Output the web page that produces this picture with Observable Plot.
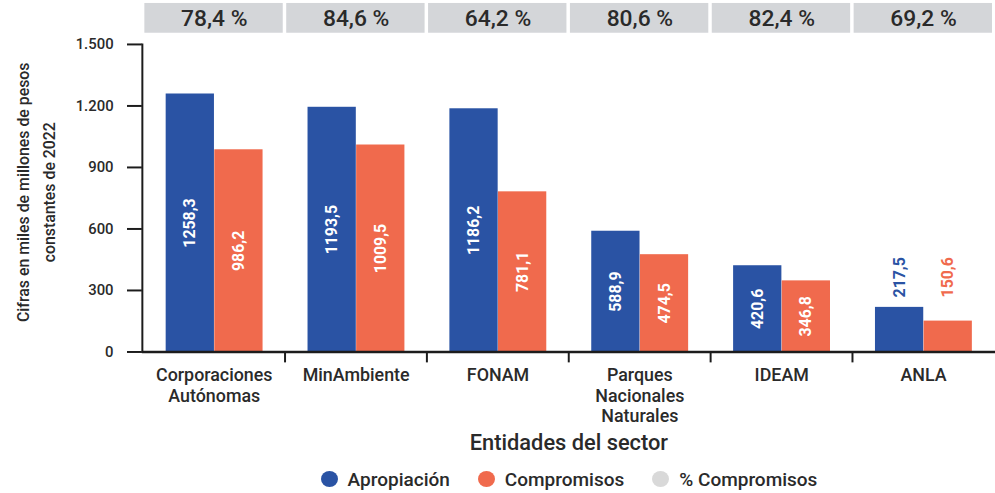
<!DOCTYPE html>
<html>
<head>
<meta charset="utf-8">
<script src="https://cdn.jsdelivr.net/npm/d3@7"></script>
<script src="https://cdn.jsdelivr.net/npm/@observablehq/plot@0.6"></script>
<style>
  html, body { margin: 0; padding: 0; background: #fff; overflow: hidden; width: 995px; height: 493px; }
  #chart svg { display: block; overflow: visible; }
  #legend { display: flex; justify-content: center; align-items: center; gap: 28px; margin-left: 143px; margin-top: 14px; width: 852px; height: 30px;
    font-family: Roboto, sans-serif; font-weight: 500; font-size: 19px; color: #2a2a2a; }
  #legend .item { display: flex; align-items: center; }
  #legend .dot { width: 17px; height: 16px; border-radius: 50%; margin-right: 10px; }
</style>
</head>
<body>
<div id="chart"></div>
<div id="legend"></div>
<script>
const entities = ["Corporaciones Autónomas", "MinAmbiente", "FONAM", "Parques Nacionales Naturales", "IDEAM", "ANLA"];
const entityLabels = ["Corporaciones\nAutónomas", "MinAmbiente", "FONAM", "Parques\nNacionales\nNaturales", "IDEAM", "ANLA"];
const apropiacion = [1258.3, 1193.5, 1186.2, 588.9, 420.6, 217.5];
const compromisos = [986.2, 1009.5, 781.1, 474.5, 346.8, 150.6];
const pctCompromisos = [78.4, 84.6, 64.2, 80.6, 82.4, 69.2];
const yTicks = [0, 300, 600, 900, 1200, 1500];
const seriesNames = ["Apropiación", "Compromisos", "% Compromisos"];
const yTitle = "Cifras en miles de millones de pesos\nconstantes de 2022";
const xTitle = "Entidades del sector";

const BLUE = "#2a53a4", ORANGE = "#f06a4d", GRAY = "#d4d6d9", INK = "#1c1c1c", TXT = "#2a2a2a";
const FONT = 'Roboto, "Open Sans", sans-serif';

const loc = d3.formatLocale({decimal: ",", thousands: ".", grouping: [3], currency: ["$", ""]});
const fmtInt = loc.format(",d");
const fmt1 = loc.format(".1f");

const rows = entities.map((e, i) => ({entity: e, a: apropiacion[i], c: compromisos[i], p: pctCompromisos[i]}));

const W = 1003, ML = 143, MR = 0;
const bw = (W - ML - MR) / entities.length;
const barW = 49, padL = 23;
const inside = v => v >= 300;

const topPlot = Plot.plot({
  width: W, height: 37, marginLeft: ML, marginRight: MR, marginTop: 3, marginBottom: 4,
  style: {fontFamily: FONT, background: "transparent"},
  x: {domain: entities, padding: 0, axis: null},
  marks: [
    Plot.cell(rows, {x: "entity", fill: GRAY, insetLeft: 1.5, insetRight: 2}),
    Plot.text(rows, {x: "entity", text: d => fmt1(d.p) + " %", fontSize: 23, fill: TXT, fontWeight: 500})
  ]
});

const labelStyle = {fill: "white", fontSize: 16, fontWeight: "bold", rotate: -90};

const mainPlot = Plot.plot({
  width: W, height: 417, marginLeft: ML, marginRight: MR, marginTop: 7, marginBottom: 100,
  style: {fontFamily: FONT, color: TXT, background: "transparent"},
  x: {domain: entities, padding: 0},
  y: {domain: [0, 1500]},
  marks: [
    Plot.barY(rows, {x: "entity", y: "a", fill: BLUE, insetLeft: padL, insetRight: bw - padL - barW}),
    Plot.barY(rows, {x: "entity", y: "c", fill: ORANGE, insetLeft: padL + barW, insetRight: bw - padL - 2 * barW}),
    Plot.text(rows.filter(d => inside(d.a)), {...labelStyle, x: "entity", y: d => d.a / 2, text: d => fmt1(d.a),
      dx: padL + barW / 2 - bw / 2}),
    Plot.text(rows.filter(d => inside(d.c)), {...labelStyle, x: "entity", y: d => d.c / 2, text: d => fmt1(d.c),
      dx: padL + 1.5 * barW - bw / 2}),
    Plot.text(rows.filter(d => !inside(d.a)), {...labelStyle, x: "entity", y: d => Math.max(d.a, d.c), text: d => fmt1(d.a),
      dx: padL + barW / 2 - bw / 2, dy: -10, textAnchor: "start", fill: BLUE}),
    Plot.text(rows.filter(d => !inside(d.c)), {...labelStyle, x: "entity", y: d => Math.max(d.a, d.c), text: d => fmt1(d.c),
      dx: padL + 1.5 * barW - bw / 2, dy: -10, textAnchor: "start", fill: ORANGE}),
    Plot.axisY({ticks: yTicks, tickSize: 15, tickPadding: 14, tickFormat: fmtInt, strokeWidth: 2, stroke: INK,
      fontSize: 15, fontWeight: 500, label: null}),
    Plot.text([yTitle], {text: d => d, frameAnchor: "left", rotate: -90, dx: -110, dy: -6, lineAnchor: "middle",
      textAnchor: "middle", lineHeight: 1.65, fontSize: 16, fontWeight: 500, fill: TXT}),
    Plot.axisX({ticks: entities.slice(1), tickSize: 11, dx: -bw / 2, tickFormat: () => "", strokeWidth: 2, stroke: INK, label: null}),
    Plot.axisX({tickSize: 0, tickPadding: 14, tickFormat: d => entityLabels[entities.indexOf(d)], fontSize: 18, fontWeight: 500,
      lineHeight: 1.17, label: null}),
    Plot.text([xTitle], {text: d => d, frameAnchor: "bottom", dy: 99, fontSize: 22, fontWeight: 500, fill: TXT}),
    Plot.ruleY([0], {stroke: INK, strokeWidth: 2.5}),
    Plot.frame({anchor: "left", stroke: INK, strokeWidth: 2})
  ]
});

document.getElementById("chart").append(topPlot, mainPlot);

const legend = document.getElementById("legend");
[BLUE, ORANGE, "#d9d9d9"].forEach((col, i) => {
  const it = document.createElement("div");
  it.className = "item";
  it.innerHTML = `<span class="dot" style="background:${col}"></span><span>${seriesNames[i]}</span>`;
  legend.append(it);
});
</script>
</body>
</html>
